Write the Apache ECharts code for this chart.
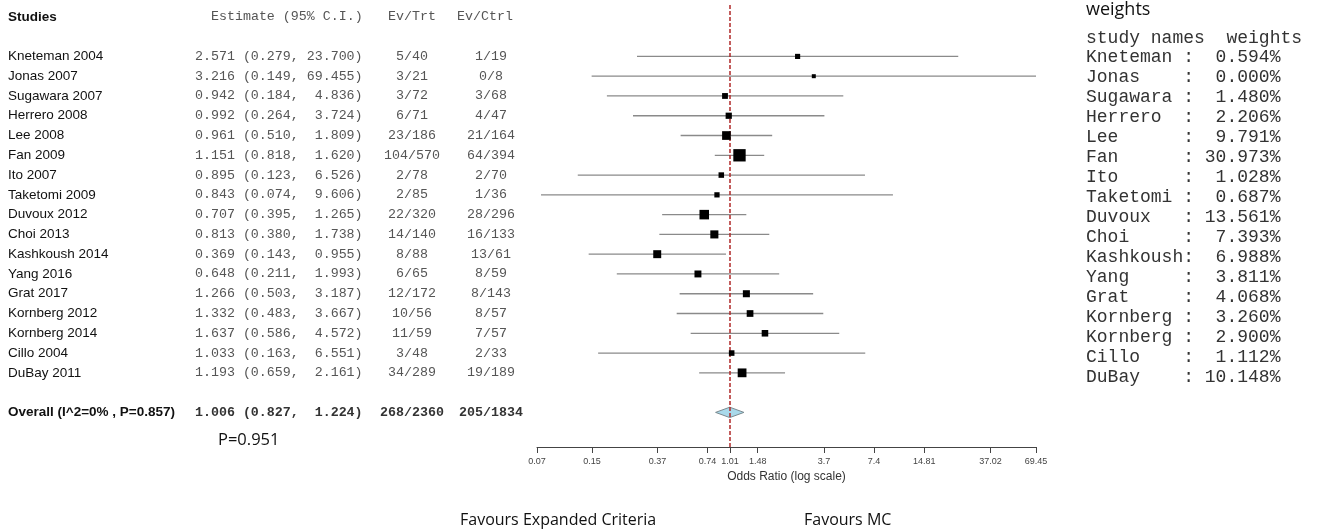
<!DOCTYPE html>
<html><head><meta charset="utf-8">
<script src="https://cdn.jsdelivr.net/npm/echarts@6/dist/echarts.min.js"></script>
<style>html,body{margin:0;padding:0;background:#fff}#c{width:1320px;height:531px}</style>
</head><body><div id="c"></div>
<script>
// ---------------- data ----------------
const studies = ['Kneteman 2004','Jonas 2007','Sugawara 2007','Herrero 2008','Lee 2008','Fan 2009','Ito 2007','Taketomi 2009','Duvoux 2012','Choi 2013','Kashkoush 2014','Yang 2016','Grat 2017','Kornberg 2012','Kornberg 2014','Cillo 2004','DuBay 2011'];
const oddsRatio = [2.571,3.216,0.942,0.992,0.961,1.151,0.895,0.843,0.707,0.813,0.369,0.648,1.266,1.332,1.637,1.033,1.193];
const ciLower = [0.279,0.149,0.184,0.264,0.510,0.818,0.123,0.074,0.395,0.380,0.143,0.211,0.503,0.483,0.586,0.163,0.659];
const ciUpper = [23.700,69.455,4.836,3.724,1.809,1.620,6.526,9.606,1.265,1.738,0.955,1.993,3.187,3.667,4.572,6.551,2.161];
const trtEvents = [5,3,3,6,23,104,2,2,22,14,8,6,12,10,11,3,34];
const trtTotal = [40,21,72,71,186,570,78,85,320,140,88,65,172,56,59,48,289];
const ctrlEvents = [1,0,3,4,21,64,2,1,28,16,13,8,8,8,7,2,19];
const ctrlTotal = [19,8,68,47,164,394,70,36,296,133,61,59,143,57,57,33,189];
const overallLabel = 'Overall (I^2=0% , P=0.857)';
const overallOR = 1.006, overallLower = 0.827, overallUpper = 1.224;
const overallTrt = '268/2360', overallCtrl = '205/1834';
const pValueText = 'P=0.951';
const weightNames = ['Kneteman','Jonas','Sugawara','Herrero','Lee','Fan','Ito','Taketomi','Duvoux','Choi','Kashkoush','Yang','Grat','Kornberg','Kornberg','Cillo','DuBay'];
const weightValues = [0.594,0.000,1.480,2.206,9.791,30.973,1.028,0.687,13.561,7.393,6.988,3.811,4.068,3.260,2.900,1.112,10.148];
const xTicks = [0.07,0.15,0.37,0.74,1.01,1.48,3.7,7.4,14.81,37.02,69.45];
const headerLabels = ['Studies','Estimate (95% C.I.)','Ev/Trt','Ev/Ctrl'];
const weightsHeader = 'study names  weights';

// ---------------- layout/style ----------------
const SANS = 'Liberation Sans';
const MONO = 'Liberation Mono';
const COL = {name: 8, est: 195, estHead: 211, trt: 412, ctrl: 491, ctrlHead: 485};
const HEADER_ROW = -2, OVERALL_ROW = 18;

function fmtEst(o, l, h) {
  return o.toFixed(3) + ' (' + l.toFixed(3) + ', ' + h.toFixed(3).padStart(6) + ')';
}

const cells = [];
cells.push({x: COL.name, row: HEADER_ROW, text: headerLabels[0], font: SANS, size: 13.5, weight: 'bold', color: '#111', align: 'left'});
cells.push({x: COL.estHead, row: HEADER_ROW, text: headerLabels[1], font: MONO, size: 13.3, weight: 'normal', color: '#555', align: 'left'});
cells.push({x: COL.trt, row: HEADER_ROW, text: headerLabels[2], font: MONO, size: 13.3, weight: 'normal', color: '#555', align: 'center'});
cells.push({x: COL.ctrlHead, row: HEADER_ROW, text: headerLabels[3], font: MONO, size: 13.3, weight: 'normal', color: '#555', align: 'center'});
studies.forEach((s, i) => {
  cells.push({x: COL.name, row: i, text: s, font: SANS, size: 13.5, weight: 'normal', color: '#111', align: 'left'});
  cells.push({x: COL.est, row: i, text: fmtEst(oddsRatio[i], ciLower[i], ciUpper[i]), font: MONO, size: 13.3, weight: 'normal', color: '#555', align: 'left'});
  cells.push({x: COL.trt, row: i, text: trtEvents[i] + '/' + trtTotal[i], font: MONO, size: 13.3, weight: 'normal', color: '#555', align: 'center'});
  cells.push({x: COL.ctrl, row: i, text: ctrlEvents[i] + '/' + ctrlTotal[i], font: MONO, size: 13.3, weight: 'normal', color: '#555', align: 'center'});
});
cells.push({x: COL.name, row: OVERALL_ROW, text: overallLabel, font: SANS, size: 13.5, weight: 'bold', color: '#111', align: 'left'});
cells.push({x: COL.est, row: OVERALL_ROW, text: fmtEst(overallOR, overallLower, overallUpper), font: MONO, size: 13.3, weight: 'bold', color: '#333', align: 'left'});
cells.push({x: COL.trt, row: OVERALL_ROW, text: overallTrt, font: MONO, size: 13.3, weight: 'bold', color: '#333', align: 'center'});
cells.push({x: COL.ctrl, row: OVERALL_ROW, text: overallCtrl, font: MONO, size: 13.3, weight: 'bold', color: '#333', align: 'center'});

const wCells = [{row: -0.95, text: weightsHeader}];
weightNames.forEach((n, i) => {
  wCells.push({row: i, text: n.padEnd(9) + ':' + weightValues[i].toFixed(3).padStart(7) + '%'});
});

function textRender(list, defaults) {
  return function (params, api) {
    const c = list[params.dataIndex];
    const p = api.coord([api.value(0), api.value(1)]);
    return {
      type: 'text', x: p[0], y: p[1],
      style: {
        text: c.text,
        fontFamily: c.font || defaults.font,
        fontSize: c.size || defaults.size,
        fontWeight: c.weight || 'normal',
        fill: c.color || defaults.color,
        align: c.align || 'left',
        verticalAlign: 'middle'
      }
    };
  };
}

function nearestTick(v) {
  let best = xTicks[0];
  xTicks.forEach(t => { if (Math.abs(Math.log(t) - Math.log(v)) < Math.abs(Math.log(best) - Math.log(v))) best = t; });
  return String(best);
}

const chart = echarts.init(document.getElementById('c'), null, {renderer: 'canvas'});
chart.setOption({
  animation: false,
  backgroundColor: '#fff',
  title: [
    {text: 'weights', left: 1086, top: 1, padding: 0, textStyle: {fontFamily: 'Open Sans', fontSize: 18, fontWeight: 'normal', color: '#111'}},
    {text: pValueText, left: 218, top: 432, padding: 0, textStyle: {fontFamily: 'Open Sans', fontSize: 16.5, fontWeight: 'normal', color: '#111'}},
    {text: 'Favours Expanded Criteria', left: 460, top: 512, padding: 0, textStyle: {fontFamily: 'Open Sans', fontSize: 16, fontWeight: 'normal', color: '#111'}},
    {text: 'Favours MC', left: 804, top: 512, padding: 0, textStyle: {fontFamily: 'Open Sans', fontSize: 16, fontWeight: 'normal', color: '#111'}}
  ],
  grid: [
    {left: 537, top: 5, width: 499, height: 442},
    {left: 0, top: 5, width: 530, height: 442},
    {left: 1086, top: 37, width: 230, height: 360}
  ],
  xAxis: [
    {
      gridIndex: 0, type: 'log', min: 0.07, max: 69.45, position: 'bottom',
      axisLine: {show: true, onZero: false, lineStyle: {color: '#444', width: 1}},
      axisTick: {show: true, customValues: xTicks, length: 6, lineStyle: {color: '#444'}},
      axisLabel: {show: true, customValues: xTicks, formatter: nearestTick, fontSize: 9, fontFamily: SANS, color: '#444', margin: 10},
      splitLine: {show: false}, minorTick: {show: false},
      name: 'Odds Ratio (log scale)', nameLocation: 'middle', nameGap: 21,
      nameTextStyle: {fontSize: 12, fontFamily: SANS, color: '#333'}
    },
    {gridIndex: 1, type: 'value', min: 0, max: 530, show: false},
    {gridIndex: 2, type: 'value', min: 0, max: 230, show: false}
  ],
  yAxis: [
    {gridIndex: 0, type: 'value', inverse: true, min: -2.6, max: 19.75, show: false},
    {gridIndex: 1, type: 'value', inverse: true, min: -2.6, max: 19.75, show: false},
    {gridIndex: 2, type: 'value', inverse: true, min: -1, max: 17, show: false}
  ],
  series: [
    {
      type: 'custom', xAxisIndex: 0, yAxisIndex: 0,
      data: studies.map((s, i) => [ciLower[i], ciUpper[i], i]),
      encode: {x: [0, 1], y: 2},
      renderItem: function (params, api) {
        const a = api.coord([api.value(0), api.value(2)]);
        const b = api.coord([api.value(1), api.value(2)]);
        return {type: 'line', shape: {x1: a[0], y1: a[1], x2: b[0], y2: b[1]}, style: {stroke: '#8a8a8a', lineWidth: 1.3}};
      },
      z: 2
    },
    {
      type: 'scatter', xAxisIndex: 0, yAxisIndex: 0,
      data: oddsRatio.map((v, i) => [v, i]),
      symbol: 'rect',
      symbolSize: function (val, params) { return 4 + 1.5 * Math.sqrt(weightValues[params.dataIndex]); },
      itemStyle: {color: '#000', opacity: 1},
      z: 4,
      markLine: {
        silent: true, symbol: 'none', label: {show: false},
        lineStyle: {color: '#b02828', type: [4, 2], width: 1.5},
        data: [{xAxis: overallOR}],
        z: 3
      }
    },
    {
      type: 'custom', xAxisIndex: 0, yAxisIndex: 0,
      data: [[overallLower, overallOR, overallUpper, OVERALL_ROW]],
      encode: {x: [0, 1, 2], y: 3},
      renderItem: function (params, api) {
        const l = api.coord([api.value(0), api.value(3)]);
        const m = api.coord([api.value(1), api.value(3)]);
        const r = api.coord([api.value(2), api.value(3)]);
        const h = 5.2;
        return {type: 'polygon', shape: {points: [[l[0], l[1]], [m[0], m[1] - h], [r[0], r[1]], [m[0], m[1] + h]]}, style: {fill: '#a9d9ea', stroke: '#7a8a90', lineWidth: 1}};
      },
      z: 2
    },
    {
      type: 'custom', xAxisIndex: 1, yAxisIndex: 1,
      data: cells.map(c => [c.x, c.row]),
      renderItem: textRender(cells, {font: SANS, size: 13.5, color: '#111'})
    },
    {
      type: 'custom', xAxisIndex: 2, yAxisIndex: 2,
      data: wCells.map(c => [0, c.row]),
      renderItem: textRender(wCells, {font: MONO, size: 18, color: '#333'})
    }
  ]
});
</script>
</body></html>
